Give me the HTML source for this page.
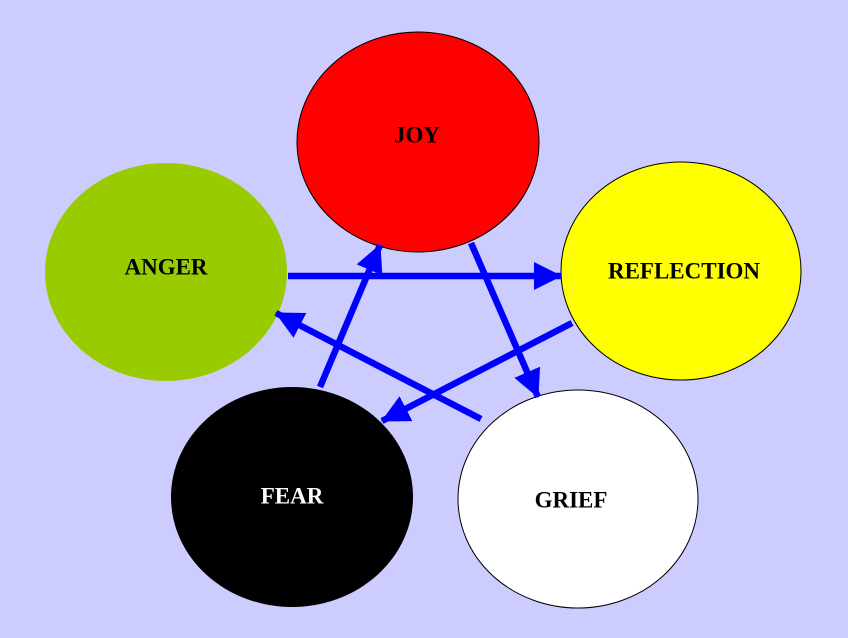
<!DOCTYPE html>
<html><head><meta charset="utf-8"><style>
html,body{margin:0;padding:0;background:#ccccff;}
svg{display:block;}
text{font-family:"Liberation Serif",serif;font-weight:bold;font-size:23px;text-anchor:middle;dominant-baseline:central;}
</style></head><body>
<svg width="848" height="638" viewBox="0 0 848 638" xmlns="http://www.w3.org/2000/svg">
<defs>
<marker id="a" markerUnits="userSpaceOnUse" markerWidth="28" markerHeight="28" refX="27" refY="14" orient="auto">
<polygon points="0,0 28,14 0,28" fill="#0000ff"/>
</marker>
</defs>
<rect width="848" height="638" fill="#ccccff"/>
<ellipse cx="418" cy="142" rx="121" ry="110" fill="#ff0000" stroke="#000" stroke-width="1"/>
<ellipse cx="166" cy="272" rx="121" ry="109" fill="#99cc00"/>
<ellipse cx="681" cy="271" rx="120" ry="109" fill="#ffff00" stroke="#000" stroke-width="1"/>
<ellipse cx="292" cy="497" rx="121" ry="110" fill="#000000"/>
<ellipse cx="578" cy="499" rx="120" ry="109" fill="#ffffff" stroke="#000" stroke-width="1"/>
<g stroke="#0000ff" stroke-width="6.5" fill="none">
<line x1="288" y1="276" x2="561" y2="276" marker-end="url(#a)"/>
<line x1="471" y1="243" x2="538" y2="397" marker-end="url(#a)"/>
<line x1="572" y1="323" x2="382" y2="421" marker-end="url(#a)"/>
<line x1="481" y1="419" x2="276" y2="313" marker-end="url(#a)"/>
<line x1="320" y1="387" x2="380" y2="245" marker-end="url(#a)"/>
</g>
<text x="417" y="135" fill="#000">JOY</text>
<text x="166" y="267" fill="#000">ANGER</text>
<text x="684" y="271" fill="#000">REFLECTION</text>
<text x="292" y="496" fill="#fff">FEAR</text>
<text x="571" y="500" fill="#000">GRIEF</text>
</svg>
</body></html>
